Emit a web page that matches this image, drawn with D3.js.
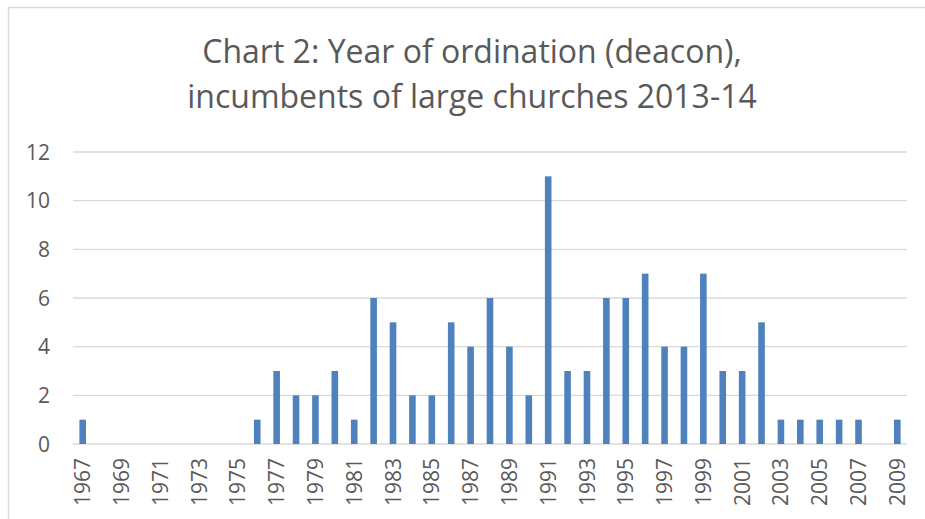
<!DOCTYPE html>
<html>
<head>
<meta charset="utf-8">
<script src="https://cdn.jsdelivr.net/npm/d3@7"></script>
<style>
  body { margin: 0; background: #fff; }
  svg { display: block; font-family: 'Open Sans', sans-serif; }
</style>
</head>
<body>
<svg id="chart" width="925" height="519"></svg>
<script>
const titleLines = ['Chart 2: Year of ordination (deacon),', 'incumbents of large churches 2013-14'];
const years = d3.range(1967, 2010).map(String);
const counts = [1, 0, 0, 0, 0, 0, 0, 0, 0, 1, 3, 2, 2, 3, 1, 6, 5, 2, 2, 5, 4, 6, 4, 2, 11,
  3, 3, 6, 6, 7, 4, 4, 7, 3, 3, 5, 1, 1, 1, 1, 1, 0, 1];
const yTicks = [0, 2, 4, 6, 8, 10, 12];

const svg = d3.select('svg#chart');
const margin = { top: 152, right: 18, bottom: 75, left: 73 };
const width = 925, height = 519;

// chart frame
svg.append('rect')
  .attr('x', 8.5).attr('y', 7.5)
  .attr('width', 940).attr('height', 540)
  .attr('fill', '#fff')
  .attr('stroke', '#d9d9d9')
  .attr('stroke-width', 1.5);

const x = d3.scaleBand()
  .domain(years)
  .range([margin.left, width - margin.right])
  .paddingInner(0.66)
  .paddingOuter(0.33);

const y = d3.scaleLinear()
  .domain([0, 12])
  .range([height - margin.bottom, margin.top]);

// gridlines
svg.append('g')
  .selectAll('line')
  .data(yTicks)
  .enter()
  .append('line')
  .attr('x1', margin.left)
  .attr('x2', width - margin.right)
  .attr('y1', d => y(d))
  .attr('y2', d => y(d))
  .attr('stroke', '#d9d9d9')
  .attr('stroke-width', 1.3);

// y labels
svg.append('g')
  .selectAll('text')
  .data(yTicks)
  .enter()
  .append('text')
  .text(d => d)
  .attr('x', 50)
  .attr('y', d => y(d))
  .attr('dy', '0.36em')
  .attr('text-anchor', 'end')
  .attr('fill', '#595959')
  .style('font-size', '21px');

// bars
svg.append('g')
  .selectAll('rect')
  .data(counts)
  .enter()
  .append('rect')
  .attr('x', (d, i) => x(years[i]))
  .attr('width', x.bandwidth())
  .attr('y', d => y(d))
  .attr('height', d => y(0) - y(d))
  .attr('fill', '#4f81bd');

// x labels, every other year
svg.append('g')
  .selectAll('text')
  .data(years.filter((d, i) => i % 2 === 0))
  .enter()
  .append('text')
  .text(d => d)
  .attr('transform', d => `translate(${x(d) + x.bandwidth() / 2},${y(0) + 14}) rotate(-90)`)
  .attr('dy', '0.36em')
  .attr('text-anchor', 'end')
  .attr('fill', '#595959')
  .style('font-size', '21px');

// title
svg.append('g')
  .selectAll('text')
  .data(titleLines)
  .enter()
  .append('text')
  .text(d => d)
  .attr('x', 472)
  .attr('y', (d, i) => 63 + i * 45)
  .attr('text-anchor', 'middle')
  .attr('fill', '#595959')
  .style('font-size', '32px');
</script>
</body>
</html>
